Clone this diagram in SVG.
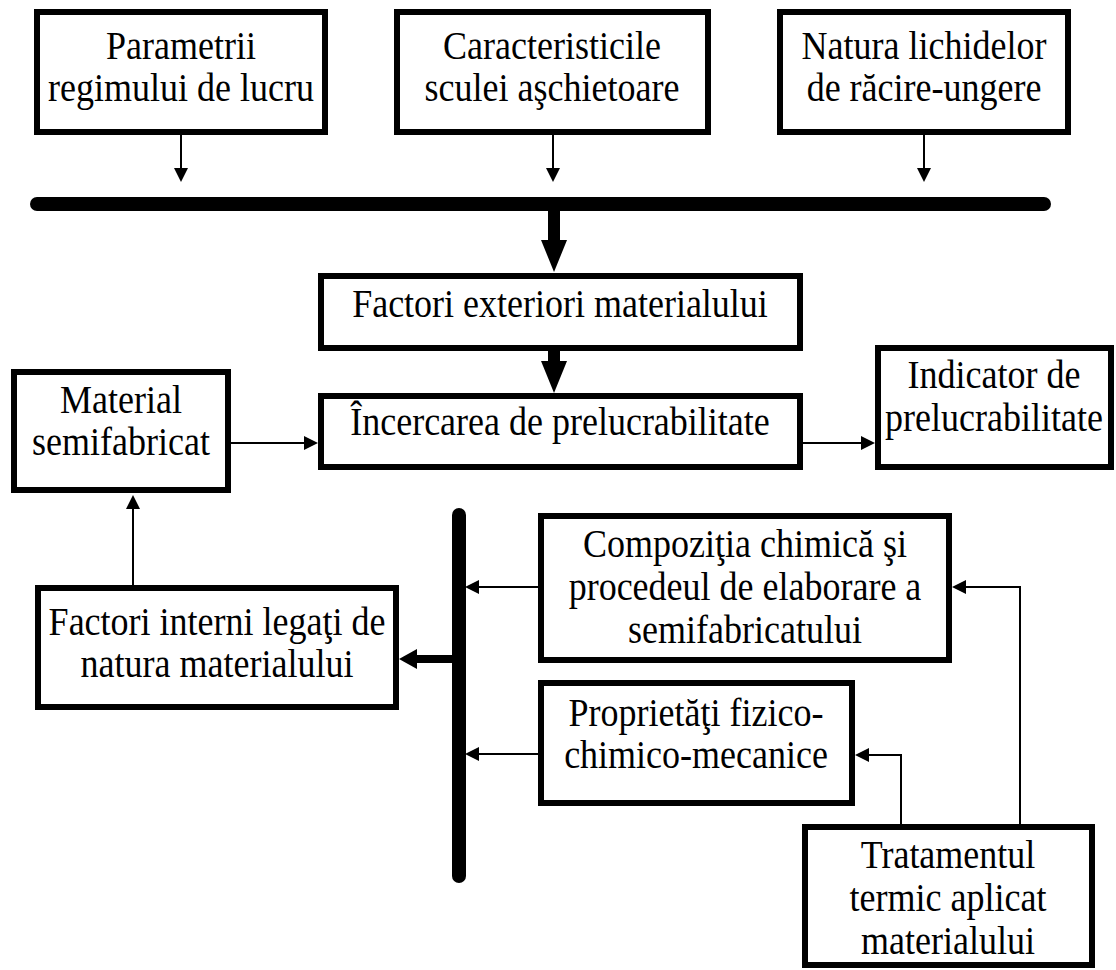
<svg xmlns="http://www.w3.org/2000/svg" width="1116" height="970" viewBox="0 0 1116 970">
<style>
.box{fill:#fff;stroke:#000;stroke-width:6}
.t{font-family:"Liberation Serif","Times New Roman",serif;font-size:36px;fill:#000;text-anchor:middle}
.thin{stroke:#000;stroke-width:2;fill:none}
.thick{stroke:#000;stroke-width:12;fill:none;stroke-linecap:round}
.bus{stroke:#000;stroke-width:14;stroke-linecap:round}
</style>
<defs>
<marker id="ah" markerUnits="userSpaceOnUse" markerWidth="14" markerHeight="14" refX="0" refY="7" orient="auto"><path d="M0,0 L14,7 L0,14 z" fill="#000"/></marker>
<marker id="ahB" markerUnits="userSpaceOnUse" markerWidth="32" markerHeight="26" refX="0" refY="13" orient="auto"><path d="M0,0 L32,13 L0,26 z" fill="#000"/></marker>
<marker id="ahM" markerUnits="userSpaceOnUse" markerWidth="18" markerHeight="20" refX="0" refY="10" orient="auto"><path d="M0,0 L18,10 L0,20 z" fill="#000"/></marker>
</defs>
<rect width="1116" height="970" fill="#fff"/>
<g id="connectors">
<line class="bus" x1="37" y1="204" x2="1044" y2="204"/>
<line class="bus" x1="459" y1="515" x2="459" y2="876" stroke-width="12"/>
<line class="thin" x1="181" y1="135" x2="181" y2="168" marker-end="url(#ah)"/>
<line class="thin" x1="553" y1="135" x2="553" y2="168" marker-end="url(#ah)"/>
<line class="thin" x1="924" y1="135" x2="924" y2="168" marker-end="url(#ah)"/>
<line class="thick" x1="554" y1="204" x2="554" y2="240" marker-end="url(#ahB)"/>
<line class="thick" x1="554" y1="345" x2="554" y2="361" marker-end="url(#ahB)"/>
<line class="thin" x1="231" y1="443" x2="304" y2="443" marker-end="url(#ah)"/>
<line class="thin" x1="803" y1="443" x2="861" y2="443" marker-end="url(#ah)"/>
<line class="thin" x1="133" y1="585" x2="133" y2="509" marker-end="url(#ah)"/>
<line class="thin" x1="538" y1="587" x2="479" y2="587" marker-end="url(#ah)"/>
<line class="thin" x1="538" y1="754" x2="479" y2="754" marker-end="url(#ah)"/>
<line x1="453" y1="659" x2="417" y2="659" stroke="#000" stroke-width="8" marker-end="url(#ahM)"/>
<polyline class="thin" points="1020,824 1020,587 966,587" marker-end="url(#ah)"/>
<polyline class="thin" points="901,824 901,755 869,755" marker-end="url(#ah)"/>
</g>
<g id="n-parametrii"><rect class="box" x="37" y="12" width="288" height="120"/><text class="t" transform="translate(181 59) scale(1 1.1)">Parametrii</text><text class="t" transform="translate(181 101) scale(1 1.1)">regimului de lucru</text></g>
<g id="n-caracteristicile"><rect class="box" x="397" y="12" width="311" height="120"/><text class="t" transform="translate(552 59) scale(1 1.1)">Caracteristicile</text><text class="t" transform="translate(552 101) scale(1 1.1)">sculei aşchietoare</text></g>
<g id="n-natura"><rect class="box" x="780" y="12" width="288" height="120"/><text class="t" transform="translate(924 59) scale(1 1.1)">Natura lichidelor</text><text class="t" transform="translate(924 101) scale(1 1.1)">de răcire-ungere</text></g>
<g id="n-factori-exteriori"><rect class="box" x="321" y="276" width="479" height="72"/><text class="t" transform="translate(560 317) scale(1 1.1)">Factori exteriori materialului</text></g>
<g id="n-incercarea"><rect class="box" x="321" y="396" width="479" height="71"/><text class="t" transform="translate(560 435) scale(1 1.1)">Încercarea de prelucrabilitate</text></g>
<g id="n-material"><rect class="box" x="14" y="372" width="214" height="118"/><text class="t" transform="translate(121 413) scale(1 1.1)">Material</text><text class="t" transform="translate(121 455) scale(1 1.1)">semifabricat</text></g>
<g id="n-indicator"><rect class="box" x="878" y="348" width="233" height="119"/><text class="t" transform="translate(994 388) scale(1 1.1)">Indicator de</text><text class="t" transform="translate(994 431) scale(1 1.1)">prelucrabilitate</text></g>
<g id="n-factori-interni"><rect class="box" x="38" y="588" width="358" height="119"/><text class="t" transform="translate(217 635) scale(1 1.1)">Factori interni legaţi de</text><text class="t" transform="translate(217 677) scale(1 1.1)">natura materialului</text></g>
<g id="n-compozitia"><rect class="box" x="541" y="516" width="408" height="144"/><text class="t" transform="translate(745 557) scale(1 1.1)">Compoziţia chimică şi</text><text class="t" transform="translate(745 600) scale(1 1.1)">procedeul de elaborare a</text><text class="t" transform="translate(745 643) scale(1 1.1)">semifabricatului</text></g>
<g id="n-proprietati"><rect class="box" x="541" y="683" width="311" height="120"/><text class="t" transform="translate(696 726) scale(1 1.1)">Proprietăţi fizico-</text><text class="t" transform="translate(696 768) scale(1 1.1)">chimico-mecanice</text></g>
<g id="n-tratamentul"><rect class="box" x="805" y="827" width="287" height="138"/><text class="t" transform="translate(948 868) scale(1 1.1)">Tratamentul</text><text class="t" transform="translate(948 911) scale(1 1.1)">termic aplicat</text><text class="t" transform="translate(948 954) scale(1 1.1)">materialului</text></g>
</svg>
